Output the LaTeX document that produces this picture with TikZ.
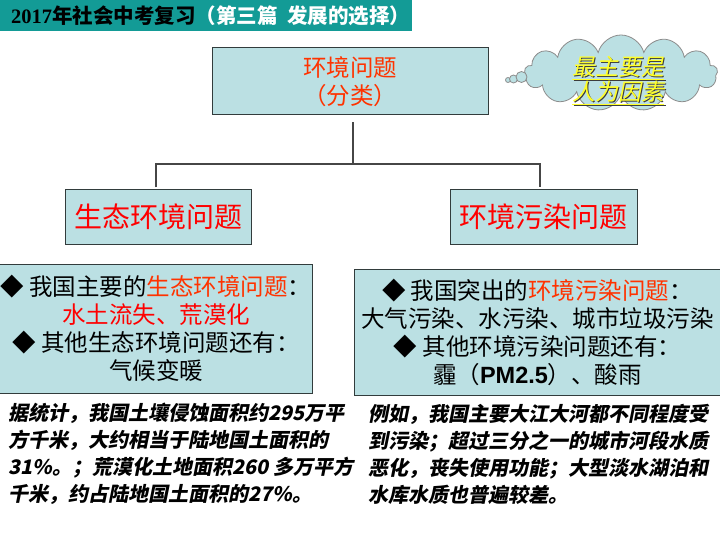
\documentclass[tikz,border=0pt]{standalone}
\usepackage{fontspec}
\setmainfont{Noto Sans CJK SC}
\newfontfamily\cjksl{Noto Sans CJK SC}[FakeSlant=0.2]
\newfontfamily\arialf{Liberation Sans}
\newfontfamily\timesf{Liberation Serif}
\usetikzlibrary{shapes.symbols}
\definecolor{teal1}{RGB}{19,155,150}
\definecolor{boxfill}{RGB}{187,224,227}
\definecolor{boxline}{RGB}{50,60,60}
\definecolor{connc}{RGB}{70,70,70}
\definecolor{redorange}{RGB}{255,51,0}
\definecolor{cloudline}{RGB}{140,140,140}
\definecolor{yel}{RGB}{255,255,40}
\definecolor{shadowc}{RGB}{60,60,60}
\begin{document}
\begin{tikzpicture}[x=1pt,y=-1pt,
  box/.style={draw=boxline,line width=1pt,fill=boxfill,inner sep=0pt,align=center},
  conn/.style={draw=connc,line width=1.1pt},
  para/.style={inner sep=0pt,align=left,anchor=west,font=\cjksl\bfseries\fontsize{20}{27}\selectfont},
  bubble/.style={circle,draw=cloudline,fill=boxfill,line width=0.8pt,inner sep=0pt}]
\useasboundingbox (0,0) rectangle (720,540);
\fill[white] (0,0) rectangle (720,540);
% title bar
\node[fill=teal1, minimum width=412, minimum height=31, inner sep=0pt, anchor=north west] (bar) at (0,0) {};
\node[anchor=west, inner sep=0pt, font=\bfseries\fontsize{20.5}{24}\selectfont] (title) at (11,16) {{\timesf\bfseries 2017}年社会中考复习\textcolor{white}{（第三篇\ \ 发展的选择）}};
% top box
\node[box, minimum width=276, minimum height=67, text=redorange, font=\fontsize{23.5}{28}\selectfont] (top) at (350,81.5) {环境问题\\（分类）};
% middle boxes
\node[box, minimum width=186, minimum height=54, text=red, font=\fontsize{28}{32}\selectfont] (eco) at (158,217) {生态环境问题};
\node[box, minimum width=187, minimum height=54, text=red, font=\fontsize{28}{32}\selectfont] (pol) at (543.5,217) {环境污染问题};
% connectors
\coordinate (hub) at (353,164);
\draw[conn] ([xshift=3pt,yshift=-7pt]top.south) -- (hub);
\draw[conn] ([xshift=-2pt,yshift=2pt]eco.north) |- (hub) -| ([xshift=-3.5pt,yshift=2pt]pol.north);
% lower boxes
\node[box, minimum width=318, minimum height=129] (ecol) at (153,328.5) {};
\node[inner sep=0pt, align=center, font=\fontsize{23.5}{28}\selectfont] (ecot) at (156,328.5) {◆ 我国主要的\textcolor{redorange}{生态环境问题}：\\\textcolor{red}{水土流失、荒漠化}\\◆ 其他生态环境问题还有：\\气候变暖};
\node[box, minimum width=367, minimum height=126, font=\fontsize{23.5}{28}\selectfont] (poll) at (537.5,332) {◆ 我国突出的\textcolor{redorange}{环境污染问题}：\\大气污染、水污染、城市垃圾污染\\◆ 其他环境污染问题还有：\\霾（{\arialf\bfseries PM2.5}）、酸雨};
% paragraphs
\node[para] (p1) at (8,454) {据统计，我国土壤侵蚀面积约295万平\\方千米，大约相当于陆地国土面积的\\31\%。；荒漠化土地面积260\ 多万平方\\千米，约占陆地国土面积的27\%。};
\node[para] (p2) at (368,454) {例如，我国主要大江大河都不同程度受\\到污染；超过三分之一的城市河段水质\\恶化，丧失使用功能；大型淡水湖泊和\\水库水质也普遍较差。};
% cloud
\node[cloud, cloud puffs=13, cloud ignores aspect, draw=cloudline, fill=boxfill, line width=0.8pt, minimum width=193, minimum height=76, inner sep=0pt] (cloud) at (621,73) {};
\node[bubble, minimum size=5] (b1) at (508,80) {};
\node[bubble, minimum size=8] (b2) at (513.5,79) {};
\node[bubble, minimum size=11] (b3) at (521.5,77) {};
\node[font=\cjksl\fontsize{23}{25}\selectfont, text=shadowc, align=center, inner sep=0pt] (cts) at (619.5,81.5) {\underline{最主要是}\\\underline{人为因素}};
\node[font=\cjksl\fontsize{23}{25}\selectfont, text=yel, align=center, inner sep=0pt] (ct) at (618,80.5) {\underline{最主要是}\\\underline{人为因素}};
\end{tikzpicture}
\end{document}
